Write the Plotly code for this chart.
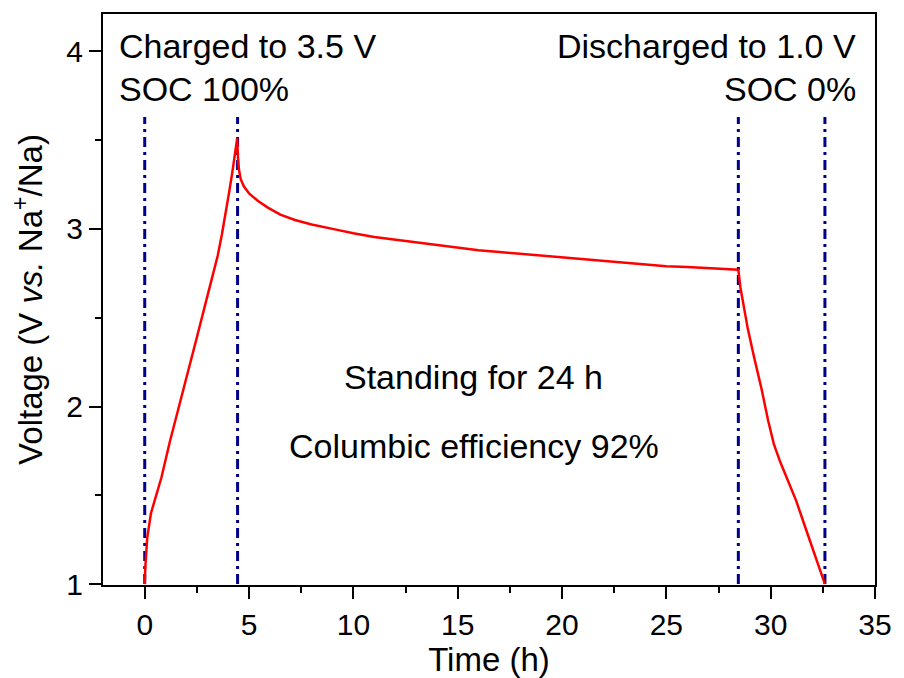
import plotly.graph_objects as go

# ---- data ----
time_h = [0, 0.03, 0.12, 0.3, 0.5, 0.8, 1.2, 1.6, 2.0, 2.5, 3.0, 3.25, 3.5, 3.7, 3.9, 4.05, 4.2, 4.33, 4.43,
          4.47, 4.52, 4.6, 4.75, 5.0, 5.4, 5.9, 6.5, 7.2, 8.0, 9, 10, 11, 12, 13, 14, 15, 16, 17,
          18, 19, 20, 21, 22, 23, 24, 25, 26, 27, 28.45,
          28.55, 28.7, 28.9, 29.2, 29.56, 29.88, 30.15, 30.45, 30.8, 31.22, 31.6, 31.95, 32.3, 32.6]
voltage = [1.0, 1.1, 1.26, 1.4, 1.48, 1.6, 1.8, 1.98, 2.15, 2.39, 2.62, 2.73, 2.85, 2.97, 3.10, 3.21, 3.32, 3.42, 3.51,
           3.40, 3.33, 3.28, 3.24, 3.20, 3.16, 3.12, 3.08, 3.05, 3.025, 3.0, 2.975, 2.955, 2.94, 2.925, 2.91, 2.895, 2.88, 2.87,
           2.86, 2.85, 2.84, 2.83, 2.82, 2.81, 2.80, 2.79, 2.785, 2.78, 2.77,
           2.67, 2.56, 2.44, 2.28, 2.10, 1.92, 1.79, 1.69, 1.59, 1.47, 1.34, 1.22, 1.11, 1.0]

marker_times = [0, 4.45, 28.45, 32.6]
marker_v_bottom = 1.0
marker_v_top = 3.63

x_ticks = [0, 5, 10, 15, 20, 25, 30, 35]
y_ticks = [1, 2, 3, 4]

FONT = "Liberation Sans, Arial, sans-serif"

fig = go.Figure()

for t in marker_times:
    fig.add_trace(go.Scatter(
        x=[t, t], y=[marker_v_bottom, marker_v_top], mode="lines",
        line=dict(color="#00008B", width=3, dash="10px,5px,3px,5px"),
        showlegend=False, hoverinfo="skip"))

fig.add_trace(go.Scatter(
    x=time_h, y=voltage, mode="lines",
    line=dict(color="#FF0000", width=2.5),
    showlegend=False))

ann_font = dict(family=FONT, size=34, color="black")
annotations = [
    dict(x=-1.35, y=4.03, text="Charged to 3.5 V", xanchor="left", yanchor="middle"),
    dict(x=-1.35, y=3.79, text="SOC 100%", xanchor="left", yanchor="middle"),
    dict(x=34.2, y=4.03, text="Discharged to 1.0 V", xanchor="right", yanchor="middle"),
    dict(x=34.2, y=3.79, text="SOC 0%", xanchor="right", yanchor="middle"),
    dict(x=15.75, y=2.165, text="Standing for 24 h", xanchor="center", yanchor="middle"),
    dict(x=15.8, y=1.78, text="Columbic efficiency 92%", xanchor="center", yanchor="middle"),
]
for a in annotations:
    fig.add_annotation(xref="x", yref="y", showarrow=False, font=ann_font, **a)

axis_common = dict(
    showline=True, linecolor="black", linewidth=2, mirror=True,
    ticks="outside", ticklen=12, tickwidth=2, tickcolor="black",
    showgrid=False, zeroline=False,
    tickfont=dict(family=FONT, size=30, color="black"),
)

fig.update_xaxes(
    range=[-2, 35], tickvals=x_ticks, ticktext=[str(v) for v in x_ticks],
    minor=dict(ticks="outside", ticklen=6, tickwidth=2, tickcolor="black", dtick=2.5, tick0=0, showgrid=False),
    title=dict(text="Time (h)", font=dict(family=FONT, size=33, color="black"), standoff=2),
    **axis_common)
fig.update_yaxes(
    range=[0.995, 4.21], tickvals=y_ticks, ticktext=[str(v) for v in y_ticks],
    minor=dict(ticks="outside", ticklen=6, tickwidth=2, tickcolor="black", dtick=0.5, tick0=1, showgrid=False),
    title=dict(text="Voltage (V <i>vs.</i> Na<sup>+</sup>/Na)", font=dict(family=FONT, size=33, color="black"), standoff=14),
    **axis_common)

fig.update_layout(
    width=904, height=678,
    margin=dict(l=103, r=24, t=13, b=92),
    plot_bgcolor="white", paper_bgcolor="white",
    font=dict(family=FONT, color="black"),
)

fig.write_html("out.html")
